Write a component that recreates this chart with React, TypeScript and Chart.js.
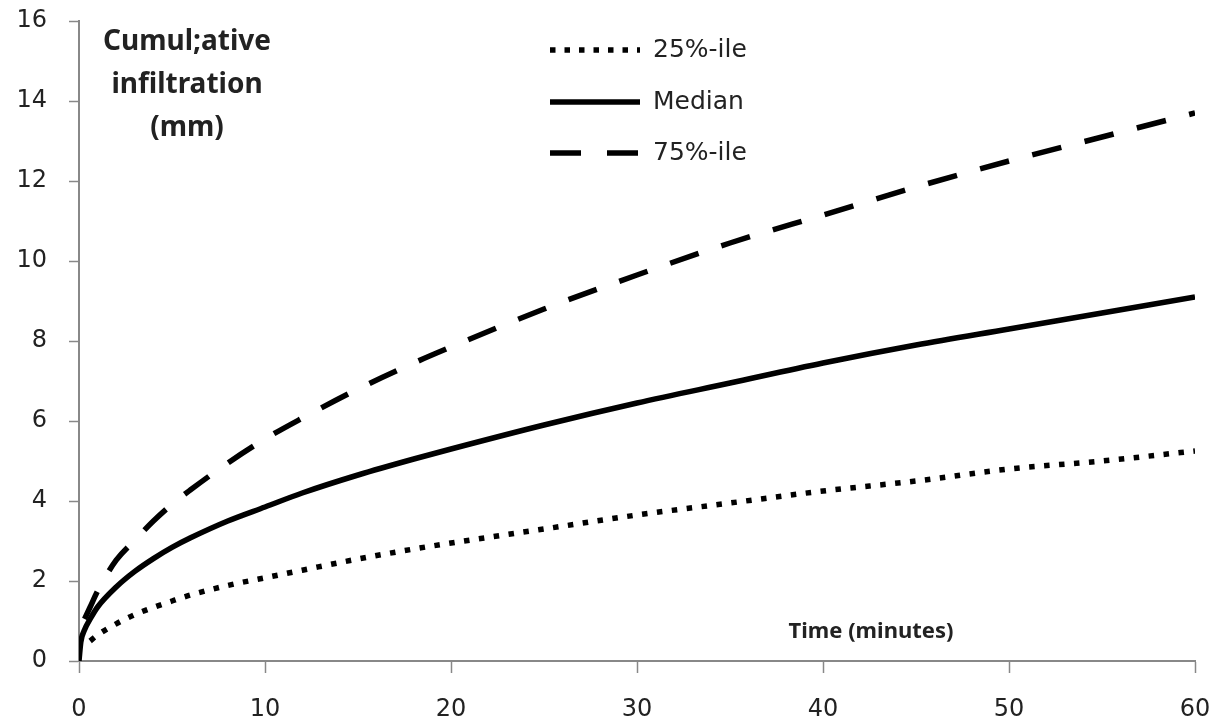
import React, { useEffect, useRef } from "react";
import { Chart, registerables } from "chart.js";

Chart.register(...registerables);

// ---- Data ----
const times = [0, 0.1, 0.3, 0.6, 1, 2, 3, 4, 5, 6, 8, 10, 12, 15, 18, 20, 25, 30, 35, 40, 45, 50, 55, 60];
const p25Values = [null, null, null, 0.5, 0.65, 0.93, 1.16, 1.34, 1.5, 1.65, 1.89, 2.08, 2.27, 2.55, 2.8, 2.95, 3.3, 3.65, 3.95, 4.25, 4.5, 4.8, 5.0, 5.25];
const medianValues = [0, 0.48, 0.78, 1.05, 1.35, 1.85, 2.24, 2.56, 2.84, 3.08, 3.5, 3.85, 4.2, 4.65, 5.05, 5.3, 5.9, 6.45, 6.95, 7.45, 7.9, 8.3, 8.7, 9.1];
const p75Values = [null, null, 1.05, 1.35, 1.75, 2.52, 3.02, 3.5, 3.92, 4.28, 4.95, 5.55, 6.07, 6.8, 7.45, 7.85, 8.8, 9.65, 10.45, 11.15, 11.85, 12.5, 13.1, 13.7];
const seriesLabels = ["25%-ile", "Median", "75%-ile"];
const yTitleLines = ["Cumul;ative", "infiltration", "(mm)"];
const xTitle = "Time (minutes)";

const TICK_FONT = "'DejaVu Sans', sans-serif";
const TITLE_FONT = "'Noto Sans', sans-serif";

function toPoints(values: (number | null)[]) {
  const pts: { x: number; y: number }[] = [];
  times.forEach((t, i) => {
    const v = values[i];
    if (v !== null && v !== undefined) pts.push({ x: t, y: v });
  });
  return pts;
}

const annotationPlugin = {
  id: "annotations",
  afterDatasetsDraw(chart: any) {
    const ctx = chart.ctx as CanvasRenderingContext2D;
    ctx.save();
    // Legend (inside chart area, upper middle)
    const legX0 = 550;
    const legX1 = 640;
    const textX = 653;
    const rowsY = [50, 102, 153];
    chart.data.datasets.forEach((ds: any, i: number) => {
      const y = rowsY[i];
      ctx.beginPath();
      ctx.strokeStyle = ds.borderColor;
      ctx.lineWidth = ds.borderWidth;
      ctx.lineCap = "butt";
      ctx.setLineDash(ds.legendDash || []);
      ctx.moveTo(legX0, y);
      ctx.lineTo(legX1, y);
      ctx.stroke();
      ctx.setLineDash([]);
      ctx.fillStyle = "#222";
      ctx.font = `25px ${TICK_FONT}`;
      ctx.textAlign = "left";
      ctx.textBaseline = "middle";
      ctx.fillText(ds.label, textX, y);
    });
    // Y title
    ctx.fillStyle = "#222";
    ctx.textAlign = "center";
    ctx.textBaseline = "middle";
    ctx.font = `bold 28px ${TITLE_FONT}`;
    const yRows = [42, 85, 128];
    yTitleLines.forEach((line, i) => ctx.fillText(line, 187, yRows[i]));
    // X title
    ctx.font = `bold 22px ${TITLE_FONT}`;
    ctx.fillText(xTitle, 871, 632);
    ctx.restore();
  },
};

export default function App() {
  const canvasRef = useRef<HTMLCanvasElement | null>(null);

  useEffect(() => {
    if (!canvasRef.current) return;
    const common = {
      borderColor: "#000",
      borderWidth: 5,
      pointRadius: 0,
      fill: false,
      cubicInterpolationMode: "monotone" as const,
      borderCapStyle: "butt" as const,
    };
    const chart = new Chart(canvasRef.current, {
      type: "line",
      data: {
        datasets: [
          { ...common, label: seriesLabels[0], data: toPoints(p25Values), borderWidth: 5.5, borderDash: [5.5, 9.5], legendDash: [5.5, 9] } as any,
          { ...common, label: seriesLabels[1], data: toPoints(medianValues), borderWidth: 5.5, legendDash: [] } as any,
          { ...common, label: seriesLabels[2], data: toPoints(p75Values), borderWidth: 5.5, borderDash: [30, 24], legendDash: [31, 26] } as any,
        ],
      },
      options: {
        responsive: false,
        animation: false,
        layout: { autoPadding: false, padding: { top: 21, right: 24, left: 0, bottom: 0 } },
        plugins: { legend: { display: false }, tooltip: { enabled: false } },
        scales: {
          x: {
            type: "linear",
            min: 0,
            max: 60,
            ticks: { stepSize: 10, color: "#222", font: { family: TICK_FONT, size: 24 }, padding: 22, maxRotation: 0 },
            grid: { drawOnChartArea: false, drawTicks: true, tickLength: 12, tickColor: "#888", tickWidth: 1.5 },
            border: { color: "#888", width: 2 },
            afterFit: (s: any) => {
              s.height = 62;
              s.paddingLeft = 0;
              s.paddingRight = 0;
              s.paddingTop = 0;
              s.paddingBottom = 0;
            },
          },
          y: {
            type: "linear",
            min: 0,
            max: 16,
            ticks: { stepSize: 2, color: "#222", font: { family: TICK_FONT, size: 24 }, padding: 22 },
            grid: { drawOnChartArea: false, drawTicks: true, tickLength: 10, tickColor: "#888", tickWidth: 1.5 },
            border: { color: "#888", width: 2 },
            afterFit: (s: any) => {
              s.width = 79;
              s.paddingLeft = 0;
              s.paddingRight = 0;
              s.paddingTop = 0;
              s.paddingBottom = 0;
            },
          },
        },
      },
      plugins: [annotationPlugin],
    });
    return () => chart.destroy();
  }, []);

  return (
    <div style={{ position: "absolute", left: 0, top: 0, width: 1219, height: 723, background: "#fff" }}>
      <canvas ref={canvasRef} width={1219} height={723} />
    </div>
  );
}
